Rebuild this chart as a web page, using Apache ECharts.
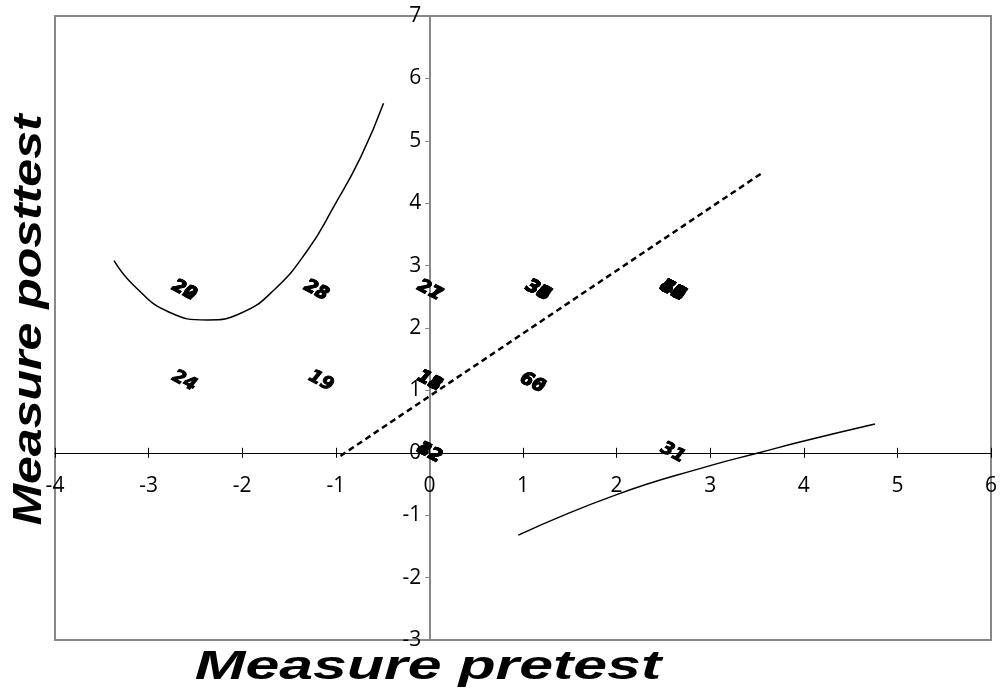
<!DOCTYPE html>
<head>
    <meta charset="utf-8">
    <title>Measure pretest / posttest</title>
    <script src="https://cdn.jsdelivr.net/npm/echarts@6/dist/echarts.min.js"></script>
</head>
<body style="margin:0">
    <div id="main" style="width:1000px;height:692px"></div>
    <script type="text/javascript">
        // person labels (many sit on top of each other)
        var pointX = [-2.62, -2.62, -1.21, -1.21, -2.62, -1.16,
                      0, 0,
                      1.16, 1.16, 1.16, 1.16, 1.16, 1.16,
                      2.6, 2.6, 2.6, 2.6, 2.6, 2.6, 2.6, 2.6, 2.6, 2.6, 2.6, 2.6,
                      2.6, 2.6, 2.6, 2.6, 2.6, 2.6,
                      0, 0, 0, 0,
                      1.1, 1.1,
                      0, 0, 0,
                      2.6];
        var pointY = [2.6, 2.6, 2.6, 2.6, 1.15, 1.15,
                      2.6, 2.6,
                      2.6, 2.6, 2.6, 2.6, 2.6, 2.6,
                      2.6, 2.6, 2.6, 2.6, 2.6, 2.6, 2.6, 2.6, 2.6, 2.6, 2.6, 2.6,
                      2.6, 2.6, 2.6, 2.6, 2.6, 2.6,
                      1.15, 1.15, 1.15, 1.15,
                      1.12, 1.12,
                      0, 0, 0,
                      0];
        var pointIds = ['20', '22', '28', '23', '24', '19',
                        '21', '27',
                        '34', '35', '37', '38', '39', '36',
                        '45', '46', '47', '48', '49', '50', '52', '53', '54', '55', '56', '58',
                        '41', '43', '44', '51', '57', '59',
                        '11', '18', '13', '15',
                        '60', '66',
                        '42', '32', '12',
                        '31'];

        // curve upper left
        var upperX = [-3.37, -3.15, -2.79, -2.37, -2.01, -1.66, -1.30, -1.02, -0.73, -0.49];
        var upperY = [3.08, 2.67, 2.26, 2.13, 2.24, 2.61, 3.25, 3.95, 4.75, 5.60];
        // curve lower right
        var lowerX = [0.95, 2.0, 2.99, 3.52, 3.98, 4.76];
        var lowerY = [-1.32, -0.67, -0.21, 0.0, 0.18, 0.46];
        // dashed line
        var dashX = [-0.95, 3.54];
        var dashY = [-0.05, 4.47];

        var xTicks = { min: -4, max: 6, interval: 1 };
        var yTicks = { min: -3, max: 7, interval: 1 };

        function pairs(xs, ys) {
            var out = [];
            for (var i = 0; i < xs.length; i++) out.push([xs[i], ys[i]]);
            return out;
        }
        var points = [];
        for (var i = 0; i < pointIds.length; i++) points.push([pointX[i], pointY[i], pointIds[i]]);

        var W = 1000, H = 692;
        var gLeft = 55, gRight = 7, gTop = 16, gBottom = 52;
        var plotW = W - gLeft - gRight, plotH = H - gTop - gBottom;
        // axes cross at zero: shift them in from the grid edges
        var yAxisOffset = -plotW * (0 - xTicks.min) / (xTicks.max - xTicks.min);
        var xAxisOffset = -plotH * (0 - yTicks.min) / (yTicks.max - yTicks.min);

        var tickFont = { color: '#000', fontSize: 21, fontFamily: 'Open Sans' };

        var myChart = echarts.init(document.getElementById('main'));
        var option = {
            animation: false,
            grid: { left: gLeft, right: gRight, top: gTop, bottom: gBottom, show: true, borderColor: '#888', borderWidth: 2 },
            xAxis: [
                {
                    type: 'value', position: 'bottom', offset: xAxisOffset,
                    min: xTicks.min, max: xTicks.max, interval: xTicks.interval,
                    splitLine: { show: false },
                    axisLine: { onZero: false, lineStyle: { color: '#000', width: 1 } },
                    axisTick: { length: 5, lineStyle: { color: '#000' } },
                    axisLabel: Object.assign({ margin: 23 }, tickFont)
                },
                {
                    type: 'value', position: 'bottom', offset: xAxisOffset,
                    min: xTicks.min, max: xTicks.max, interval: xTicks.interval,
                    splitLine: { show: false },
                    axisLine: { onZero: false, lineStyle: { color: '#000', width: 1 } },
                    axisTick: { inside: true, length: 5, lineStyle: { color: '#000' } },
                    axisLabel: { show: false }
                }
            ],
            yAxis: {
                type: 'value', position: 'left', offset: yAxisOffset,
                min: yTicks.min, max: yTicks.max, interval: yTicks.interval,
                splitLine: { show: false },
                axisLine: { onZero: false, lineStyle: { color: '#888', width: 2 } },
                axisTick: { length: 5, lineStyle: { color: '#888' } },
                axisLabel: Object.assign({ margin: 9 }, tickFont)
            },
            series: [
                {
                    type: 'line', data: pairs(upperX, upperY), smooth: 0.5,
                    showSymbol: false, lineStyle: { color: '#000', width: 1.5 }
                },
                {
                    type: 'line', data: pairs(lowerX, lowerY), smooth: 0.5,
                    showSymbol: false, lineStyle: { color: '#000', width: 1.5 }
                },
                {
                    type: 'line', data: pairs(dashX, dashY),
                    showSymbol: false, lineStyle: { color: '#000', width: 2.5, type: [6, 4] }
                },
                {
                    type: 'scatter', data: points, symbolSize: 2,
                    itemStyle: { color: '#000', opacity: 0 },
                    label: {
                        show: true, position: 'inside', rotate: -28,
                        formatter: function (p) { return p.value[2]; },
                        color: '#000', opacity: 1, fontSize: 18, fontWeight: 'bold', fontStyle: 'italic',
                        fontFamily: 'DejaVu Sans', textBorderColor: '#000', textBorderWidth: 1
                    },
                    emphasis: { disabled: true }
                }
            ],
            graphic: [
                {
                    type: 'text', x: 428, y: 668, scaleX: 1.52,
                    style: {
                        text: 'Measure pretest', fontSize: 40, fontWeight: 'bold', fontStyle: 'italic',
                        fontFamily: 'Liberation Sans', fill: '#000', align: 'center', verticalAlign: 'middle'
                    }
                },
                {
                    type: 'text', x: 30, y: 320, rotation: Math.PI / 2, scaleX: 1.25,
                    style: {
                        text: 'Measure posttest', fontSize: 40, fontWeight: 'bold', fontStyle: 'italic',
                        fontFamily: 'Liberation Sans', fill: '#000', align: 'center', verticalAlign: 'middle'
                    }
                }
            ]
        };
        myChart.setOption(option);
    </script>
</body>
